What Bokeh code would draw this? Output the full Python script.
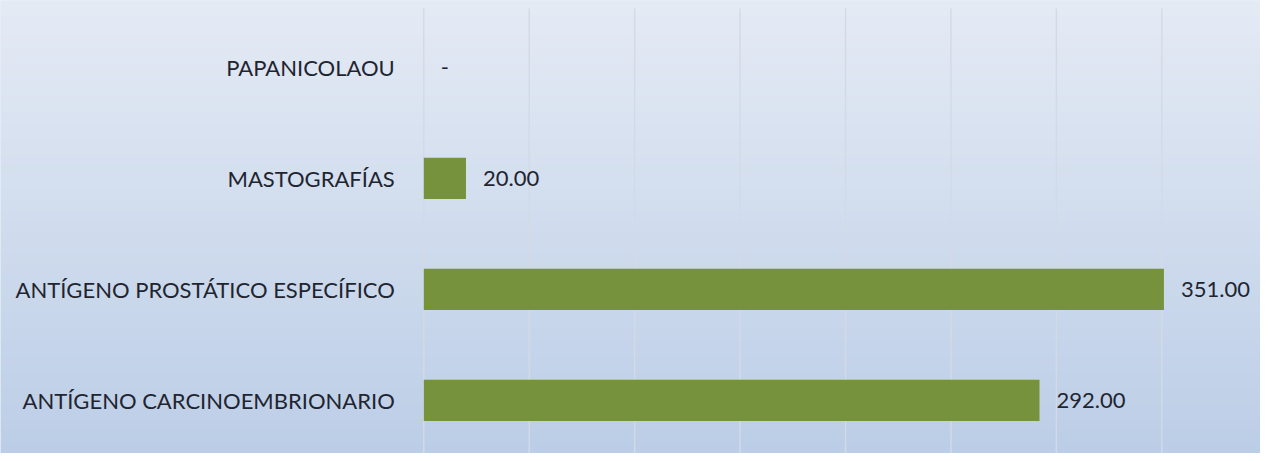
import numpy as np
from bokeh.plotting import figure
from bokeh.models import ColumnDataSource, Range1d
from bokeh.core.properties import value
from bokeh.embed import file_html
from bokeh.resources import INLINE

# ---- data ----
categories = ["ANTÍGENO CARCINOEMBRIONARIO", "ANTÍGENO PROSTÁTICO ESPECÍFICO", "MASTOGRAFÍAS", "PAPANICOLAOU"]
values = [292.0, 351.0, 20.0, 0.0]
value_labels = ["292.00", "351.00", "20.00", "-"]
grid_ticks = [0, 50, 100, 150, 200, 250, 300, 350, 400]

W, H = 1260, 453
px_per_unit = 2.1086
zero_px = 423.3
row_px = 111.0
first_row_px = 399.9

x_start = -zero_px / px_per_unit
x_end = (W - zero_px) / px_per_unit
y_start = -(H - first_row_px) / row_px
y_end = first_row_px / row_px

p = figure(width=W, height=H, output_backend="svg", toolbar_location=None,
           x_range=Range1d(x_start, x_end), y_range=Range1d(y_start, y_end),
           min_border=0, min_border_left=0, min_border_right=0,
           min_border_top=0, min_border_bottom=0)
p.axis.visible = False
p.grid.visible = False
p.outline_line_color = None
p.background_fill_color = "#d3deee"
p.border_fill_color = "#d3deee"

# background vertical gradient
n = 200
top = np.array([229, 235, 245])
bot = np.array([188, 206, 231])
t = np.linspace(0, 1, n)[:, None]
cols = (bot * (1 - t) + top * t).astype(np.uint8)  # row 0 = bottom
img = np.empty((n, 1), dtype=np.uint32)
view = img.view(dtype=np.uint8).reshape((n, 1, 4))
view[:, 0, 0] = cols[:, 0]
view[:, 0, 1] = cols[:, 1]
view[:, 0, 2] = cols[:, 2]
view[:, 0, 3] = 255
p.image_rgba(image=[img], x=x_start, y=y_start, dw=x_end - x_start, dh=y_end - y_start)

# gridlines
n_rows = len(categories)
p.segment(x0=grid_ticks, x1=grid_ticks, y0=-0.5, y1=n_rows - 0.5 + 0.03,
          line_color="#d3dae6", line_width=1.4)

src = ColumnDataSource(dict(y=list(range(n_rows)), v=values, lab=value_labels, cat=categories))

p.hbar(y="y", left=0, right="v", height=0.37, source=src,
       fill_color="#76923c", line_color=None)

p.text(x="v", y="y", text="lab", source=src, x_offset=17,
       text_align="left", text_baseline="middle",
       text_font=value("Lato"), text_font_size="22px", text_color="#1f2530")

p.text(x=0, y="y", text="cat", source=src, x_offset=-29,
       text_align="right", text_baseline="middle",
       text_font=value("Lato"), text_font_size="22px", text_color="#1f2530")

open("out.html", "w").write(file_html(p, INLINE))
